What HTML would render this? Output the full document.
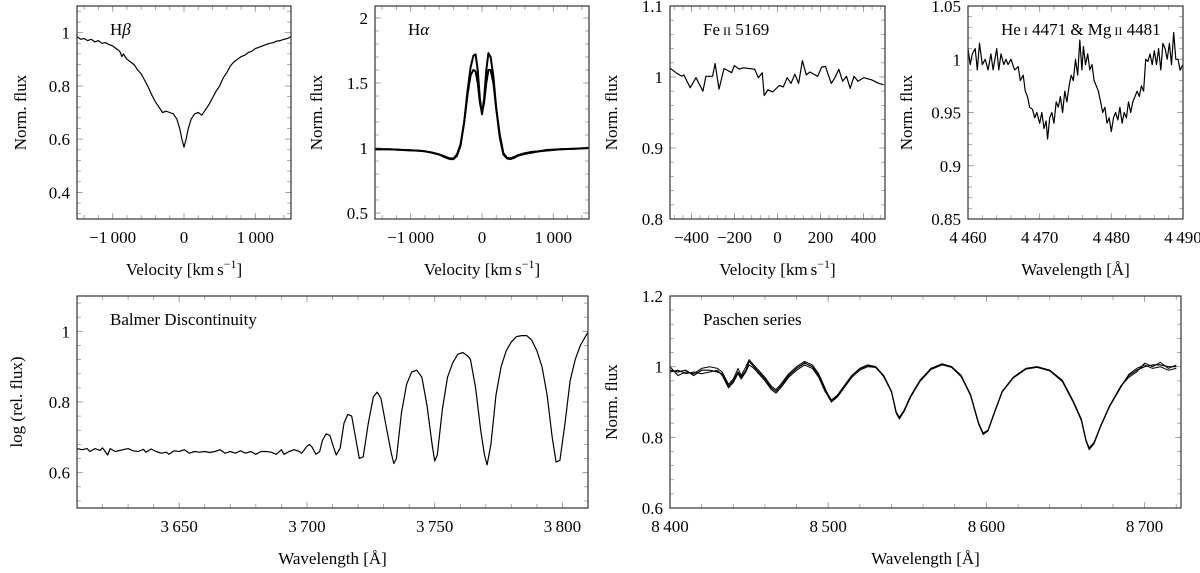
<!DOCTYPE html>
<html><head><meta charset="utf-8">
<style>
html,body{margin:0;padding:0;background:#fff;}
svg{display:block;font-family:"Liberation Serif","DejaVu Serif",serif;}
text{fill:#000;}
</style></head>
<body>
<svg id="fig" width="1200" height="573" viewBox="0 0 1200 573" xmlns="http://www.w3.org/2000/svg"></svg>
<script>
// ---------- Data ----------
const hbVel = [-1500,-1450,-1400,-1350,-1300,-1250,-1200,-1150,-1100,-1050,-1000,-950,-900,-870,-850,-800,-750,-700,-650,-600,-550,-500,-450,-400,-350,-300,-250,-200,-150,-100,-60,-30,0,30,60,100,150,200,250,300,350,400,450,500,550,600,650,700,750,800,850,900,950,1000,1050,1100,1150,1200,1250,1300,1350,1400,1450,1500];
const hbFlux = [0.985,0.975,0.978,0.97,0.975,0.965,0.97,0.96,0.962,0.955,0.95,0.94,0.93,0.91,0.92,0.9,0.89,0.88,0.86,0.845,0.82,0.795,0.765,0.74,0.72,0.70,0.705,0.70,0.695,0.675,0.64,0.60,0.57,0.60,0.64,0.675,0.695,0.70,0.69,0.71,0.73,0.755,0.78,0.80,0.83,0.85,0.875,0.89,0.90,0.91,0.915,0.925,0.93,0.94,0.945,0.95,0.955,0.96,0.962,0.968,0.97,0.975,0.978,0.985];

const haVel = [-1500,-1300,-1100,-900,-800,-700,-600,-500,-450,-400,-350,-300,-250,-200,-160,-120,-90,-60,-30,0,30,60,90,120,160,200,250,300,350,400,450,500,600,700,800,900,1100,1300,1500];
const haFluxA = [0.99,0.99,0.985,0.98,0.975,0.965,0.95,0.925,0.915,0.915,0.94,1.02,1.2,1.45,1.62,1.71,1.72,1.6,1.38,1.26,1.38,1.6,1.73,1.70,1.55,1.3,1.08,0.95,0.92,0.915,0.925,0.94,0.955,0.965,0.975,0.98,0.99,0.995,1.0];
const haFluxB = [0.99,0.99,0.985,0.98,0.975,0.965,0.95,0.93,0.92,0.92,0.95,1.03,1.2,1.42,1.56,1.6,1.59,1.5,1.35,1.27,1.35,1.5,1.6,1.6,1.5,1.3,1.1,0.96,0.925,0.92,0.93,0.945,0.96,0.97,0.975,0.985,0.99,0.995,1.0];

const feVel = [-502,-472,-445,-436,-406,-379,-347,-333,-302,-290,-272,-249,-213,-201,-178,-160,-133,-106,-89,-71,-62,-44,-23,9,27,45,63,81,98,116,134,151,187,205,223,250,267,285,303,321,338,356,374,401,437,472,494];
const feFlux = [1.013,1.006,1.001,1.003,0.985,0.999,0.980,1.001,1.001,1.019,0.983,1.012,1.006,1.016,1.011,1.013,1.012,1.011,0.999,1.006,0.974,0.982,0.979,0.988,0.986,0.999,0.991,1.004,0.991,1.023,1.003,1.007,1.001,1.014,1.015,0.991,0.999,1.011,0.994,1.001,0.984,1.001,0.994,0.999,0.996,0.991,0.989];

const heWl = [4460,4460.3,4460.6,4461,4461.3,4461.6,4462,4462.4,4462.8,4463.2,4463.5,4464,4464.3,4464.6,4465,4465.3,4465.6,4466,4466.5,4467,4467.3,4467.7,4468,4468.3,4468.6,4469,4469.3,4469.6,4470,4470.3,4470.6,4470.9,4471.1,4471.4,4471.7,4472,4472.3,4472.6,4472.9,4473.2,4473.5,4473.8,4474.1,4474.4,4474.7,4475,4475.3,4475.6,4475.9,4476.1,4476.4,4476.7,4477,4477.3,4477.6,4477.9,4478.2,4478.5,4478.8,4479.1,4479.4,4479.7,4480,4480.3,4480.6,4480.9,4481.2,4481.5,4481.8,4482.1,4482.4,4482.7,4483,4483.3,4483.6,4483.9,4484.2,4484.5,4484.8,4485.1,4485.4,4485.7,4486,4486.3,4486.6,4486.9,4487.2,4487.5,4487.8,4488.1,4488.4,4488.7,4489,4489.3,4489.6,4490];
const heFlux = [1.01,0.995,1.005,1.01,0.99,1.015,0.995,1.0,0.99,1.005,0.99,1.01,0.99,1.005,0.995,1.0,0.995,1.0,0.99,0.993,0.98,0.985,0.97,0.965,0.955,0.953,0.945,0.95,0.94,0.95,0.935,0.942,0.925,0.945,0.95,0.94,0.96,0.955,0.965,0.95,0.97,0.96,0.975,0.985,0.98,1.0,0.985,1.018,0.99,1.012,0.995,1.005,0.99,0.995,0.98,0.975,0.97,0.96,0.95,0.955,0.94,0.945,0.932,0.945,0.95,0.943,0.955,0.94,0.95,0.945,0.96,0.95,0.96,0.965,0.97,0.965,0.975,0.97,1.0,0.998,1.005,0.995,1.008,0.995,1.01,0.99,1.015,1.01,1.0,1.015,0.995,1.025,1.0,1.0,0.99,0.995];

const baWl = [3610,3612,3614,3615,3617,3619,3620,3622,3623,3625,3628,3630,3632,3634,3636,3637,3639,3641,3643,3645,3646,3648,3650,3652,3654,3656,3658,3660,3662,3664,3666,3668,3670,3672,3674,3676,3678,3680,3682,3684,3686,3688,3690,3691,3693,3695,3697,3698,3700,3701,3702,3703.5,3705,3706,3707.5,3709,3710.5,3711.5,3713,3714.5,3716,3717.5,3719,3720.5,3722,3724,3726,3727.5,3729,3731,3733,3734,3735,3737,3739,3741,3743,3745,3747,3749,3750,3751,3753,3755,3757,3759,3761,3763,3764,3766,3768,3769.5,3770.5,3772,3774,3776,3778,3780,3782,3784,3786,3788,3790,3792,3794,3796,3797.5,3799,3801,3803,3805,3807,3809,3810];
const baFlux = [0.668,0.665,0.668,0.66,0.668,0.663,0.670,0.650,0.668,0.66,0.665,0.668,0.662,0.66,0.666,0.658,0.667,0.66,0.655,0.658,0.652,0.662,0.66,0.665,0.655,0.66,0.658,0.66,0.657,0.66,0.665,0.655,0.66,0.655,0.662,0.655,0.66,0.652,0.66,0.66,0.658,0.652,0.665,0.652,0.66,0.665,0.66,0.655,0.675,0.68,0.672,0.652,0.66,0.69,0.71,0.705,0.67,0.65,0.67,0.74,0.765,0.76,0.70,0.64,0.645,0.74,0.815,0.828,0.81,0.73,0.655,0.626,0.64,0.77,0.85,0.885,0.89,0.87,0.79,0.68,0.633,0.65,0.78,0.87,0.91,0.935,0.94,0.93,0.92,0.84,0.72,0.65,0.622,0.68,0.82,0.90,0.945,0.97,0.985,0.988,0.988,0.975,0.945,0.90,0.82,0.70,0.63,0.635,0.74,0.86,0.92,0.96,0.985,0.997];

const paWl = [8400,8405,8410,8415,8420,8425,8430,8433,8437,8440,8443,8445,8448,8450,8453,8456,8460,8464,8467,8470,8475,8480,8485,8490,8494,8498,8502,8506,8510,8515,8520,8525,8530,8535,8540,8543,8545,8548,8552,8558,8565,8572,8578,8584,8590,8595,8598,8601,8605,8610,8617,8625,8632,8640,8648,8655,8660,8663,8665,8668,8672,8678,8685,8690,8695,8700,8705,8710,8715,8720];
const paFluxA = [0.99,0.985,0.99,0.975,0.99,0.99,0.985,0.98,0.945,0.96,0.985,0.97,0.99,1.015,1.0,0.985,0.965,0.94,0.93,0.945,0.975,0.995,1.01,1.0,0.975,0.935,0.905,0.92,0.945,0.975,0.995,1.005,1.0,0.975,0.93,0.87,0.855,0.875,0.915,0.96,0.995,1.008,1.0,0.975,0.92,0.84,0.812,0.82,0.87,0.93,0.97,0.995,1.0,0.99,0.96,0.90,0.85,0.79,0.77,0.785,0.83,0.89,0.945,0.975,0.99,1.0,1.005,1.005,1.0,1.0];
const paFluxB = [1.0,0.975,0.985,0.98,0.995,1.0,0.995,0.985,0.95,0.965,0.995,0.975,1.0,1.02,1.005,0.99,0.97,0.945,0.935,0.95,0.98,1.0,1.015,1.005,0.98,0.94,0.9,0.915,0.94,0.97,0.99,1.0,0.998,0.975,0.93,0.872,0.857,0.877,0.917,0.962,0.995,1.005,1.0,0.975,0.92,0.842,0.81,0.82,0.868,0.93,0.97,0.993,1.0,0.99,0.962,0.902,0.852,0.792,0.768,0.782,0.83,0.89,0.945,0.97,0.985,1.01,1.0,1.012,0.995,1.005];
const paFluxC = [0.985,0.99,0.98,0.985,0.98,0.985,0.99,0.975,0.94,0.955,0.98,0.965,0.985,1.005,0.995,0.98,0.96,0.935,0.925,0.94,0.97,0.99,1.005,0.995,0.97,0.93,0.9,0.918,0.944,0.975,0.993,1.003,0.998,0.972,0.928,0.868,0.852,0.873,0.913,0.958,0.992,1.005,0.998,0.972,0.918,0.838,0.808,0.818,0.868,0.928,0.968,0.993,0.998,0.988,0.958,0.898,0.848,0.788,0.765,0.782,0.828,0.888,0.942,0.978,0.995,1.005,0.995,1.0,0.99,0.995];

// ---------- Rendering ----------
const svg = document.getElementById('fig');
const NS = 'http://www.w3.org/2000/svg';
function mk(tag, attrs, parent){
  const e = document.createElementNS(NS, tag);
  for (const k in attrs) e.setAttribute(k, attrs[k]);
  (parent||svg).appendChild(e);
  return e;
}
function fmt(v, dec){
  let s = Math.abs(v).toFixed(dec);
  if (s.indexOf('.') >= 0) s = s.replace(/0+$/, '').replace(/\.$/, '');
  let [ip, fp] = s.split('.');
  if (ip.length > 3) ip = ip.slice(0, ip.length-3) + '\u2009' + ip.slice(ip.length-3);
  s = fp ? ip + '.' + fp : ip;
  return (v < -1e-9 ? '\u2212' : '') + s;
}

function panel(cfg){
  const g = mk('g', {});
  
  
  const sx = v => cfg.l + (v - cfg.x0) / (cfg.x1 - cfg.x0) * (cfg.r - cfg.l);
  const sy = v => cfg.b - (v - cfg.y0) / (cfg.y1 - cfg.y0) * (cfg.b - cfg.t);
  const tk = mk('g', {stroke:'#999', 'stroke-width':0.8}, g);
  
  
  const xs = Math.ceil((cfg.x0 + 1e-9) / cfg.xstep), xe = Math.floor((cfg.x1 - 1e-9) / cfg.xstep);
  for (let i = xs; i <= xe; i++){
    const x = sx(i * cfg.xstep);
    mk('line', {x1:x, x2:x, y1:cfg.b, y2:cfg.b-4}, tk);
    mk('line', {x1:x, x2:x, y1:cfg.t, y2:cfg.t+4}, tk);
  }
  const ys = Math.ceil((cfg.y0 + 1e-9) / cfg.ystep), ye = Math.floor((cfg.y1 - 1e-9) / cfg.ystep);
  for (let i = ys; i <= ye; i++){
    const y = sy(i * cfg.ystep);
    mk('line', {x1:cfg.l, x2:cfg.l+4, y1:y, y2:y}, tk);
    mk('line', {x1:cfg.r, x2:cfg.r-4, y1:y, y2:y}, tk);
  }
  cfg.xt.forEach(v => {
    const x = sx(v);
    mk('line', {x1:x, x2:x, y1:cfg.b, y2:cfg.b-6}, tk);
    mk('line', {x1:x, x2:x, y1:cfg.t, y2:cfg.t+6}, tk);
  });
  cfg.yt.forEach(v => {
    const y = sy(v);
    mk('line', {x1:cfg.l, x2:cfg.l+6, y1:y, y2:y}, tk);
    mk('line', {x1:cfg.r, x2:cfg.r-6, y1:y, y2:y}, tk);
  });
  cfg.series.forEach((s, k) => {
    let d = '';
    s.x.forEach((xv, i) => { d += (i ? 'L' : 'M') + sx(xv).toFixed(1) + ' ' + sy(s.y[i]).toFixed(1); });
    const p = mk('path', {d:d, fill:'none', stroke:'#000', 'stroke-width':s.w||1.2, 'stroke-linejoin':'round'}, g);
    
    
  });
  const fr = mk('rect', {x:cfg.l, y:cfg.t, width:cfg.r-cfg.l, height:cfg.b-cfg.t, fill:'none', stroke:'#333', 'stroke-width':1.2}, g);
  
  
  cfg.xt.forEach(v => {
    const t = mk('text', {x:sx(v), y:cfg.b+24, 'text-anchor':'middle', 'font-size':17}, g);
    t.textContent = fmt(v, 0);
    
    
  });
  cfg.yt.forEach(v => {
    const t = mk('text', {x:cfg.l-7, y:sy(v)+6, 'text-anchor':'end', 'font-size':17}, g);
    t.textContent = fmt(v, cfg.ydec);
    
    
  });
  const xl = mk('text', {x:(cfg.l+cfg.r)/2, y:cfg.b+56, 'text-anchor':'middle', 'font-size':17}, g);
  xl.innerHTML = cfg.xlabel;
  
  
  const yl = mk('text', {x:0, y:0, 'text-anchor':'middle', 'font-size':17, transform:'translate(' + cfg.ylx + ',' + ((cfg.t+cfg.b)/2) + ') rotate(-90)'}, g);
  yl.textContent = cfg.ylabel;
  
  
  const tt = mk('text', {x:cfg.l+33, y:cfg.t+29, 'font-size':17}, g);
  tt.innerHTML = cfg.title;
  
  
}

const velLab = 'Velocity [km<tspan dx="3">s</tspan><tspan dy="-7" font-size="12">\u22121</tspan><tspan dy="7">]</tspan>';
const wlLab = 'Wavelength [\u00C5]';
const sc = s => '<tspan font-size="12">' + s + '</tspan>';

panel({name:'hbeta-panel', l:77, r:291, t:6, b:219, x0:-1500, x1:1500, y0:0.3, y1:1.1, xstep:200, ystep:0.04,
  xt:[-1000,0,1000], yt:[0.4,0.6,0.8,1], ydec:1, xlabel:velLab, ylabel:'Norm. flux', ylx:26,
  title:'H<tspan font-style="italic">\u03B2</tspan>', series:[{x:hbVel, y:hbFlux}]});
panel({name:'halpha-panel', l:375, r:589, t:6, b:219, x0:-1500, x1:1500, y0:0.454, y1:2.092, xstep:200, ystep:0.1,
  xt:[-1000,0,1000], yt:[0.5,1,1.5,2], ydec:1, xlabel:velLab, ylabel:'Norm. flux', ylx:322,
  title:'H<tspan font-style="italic">\u03B1</tspan>', series:[{x:haVel, y:haFluxA, w:2}, {x:haVel, y:haFluxB, w:2}]});
panel({name:'feii-panel', l:670, r:885, t:6, b:219, x0:-500, x1:500, y0:0.8, y1:1.1, xstep:40, ystep:0.02,
  xt:[-400,-200,0,200,400], yt:[0.8,0.9,1,1.1], ydec:1, xlabel:velLab, ylabel:'Norm. flux', ylx:617,
  title:'Fe' + sc(' II') + ' 5169', series:[{x:feVel, y:feFlux}]});
panel({name:'he-mg-panel', l:968, r:1183, t:6, b:219, x0:4460, x1:4490, y0:0.85, y1:1.05, xstep:2, ystep:0.01,
  xt:[4460,4470,4480,4490], yt:[0.85,0.9,0.95,1,1.05], ydec:2, xlabel:wlLab, ylabel:'Norm. flux', ylx:912,
  title:'He' + sc(' I') + ' 4471 &amp; Mg' + sc(' II') + ' 4481', series:[{x:heWl, y:heFlux}]});
panel({name:'balmer-panel', l:77, r:588, t:296, b:508, x0:3610, x1:3810, y0:0.5, y1:1.1, xstep:10, ystep:0.04,
  xt:[3650,3700,3750,3800], yt:[0.6,0.8,1], ydec:1, xlabel:wlLab, ylabel:'log (rel. flux)', ylx:22,
  title:'Balmer Discontinuity', series:[{x:baWl, y:baFlux}]});
panel({name:'paschen-panel', l:670, r:1181, t:296, b:508, x0:8400, x1:8723, y0:0.6, y1:1.2, xstep:20, ystep:0.04,
  xt:[8400,8500,8600,8700], yt:[0.6,0.8,1,1.2], ydec:1, xlabel:wlLab, ylabel:'Norm. flux', ylx:617,
  title:'Paschen series', series:[{x:paWl, y:paFluxA}, {x:paWl, y:paFluxB, w:1}, {x:paWl, y:paFluxC, w:1}]});
</script>
</body></html>
